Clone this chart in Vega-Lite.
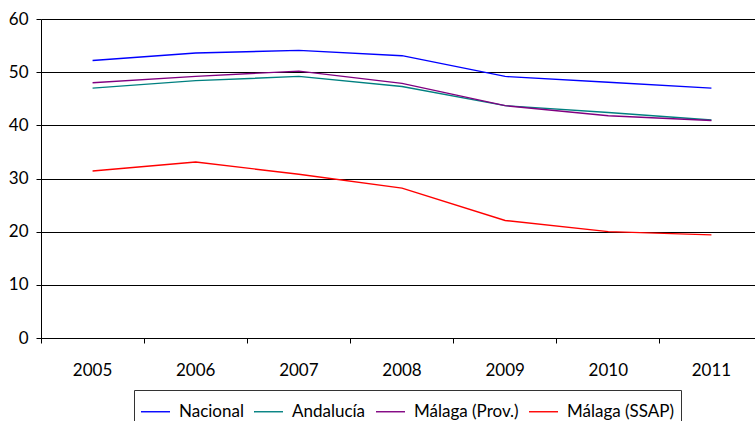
{
  "$schema": "https://vega.github.io/schema/vega-lite/v6.json",
  "autosize": "none",
  "padding": {"left": 41, "top": 19, "right": 0, "bottom": 83},
  "width": 714,
  "height": 319,
  "background": "white",
  "config": {
    "view": {"stroke": null},
    "font": "Lato",
    "axis": {"labelFont": "Lato", "labelFontSize": 17, "labelColor": "#000", "domainColor": "#000", "tickColor": "#000", "gridColor": "#000", "gridOpacity": 1, "domainWidth": 1, "tickWidth": 1, "gridWidth": 1}
  },
  "data": {
    "values": [
      {"year": "2005", "serie": "Nacional", "value": 52.2},
      {"year": "2006", "serie": "Nacional", "value": 53.6},
      {"year": "2007", "serie": "Nacional", "value": 54.1},
      {"year": "2008", "serie": "Nacional", "value": 53.1},
      {"year": "2009", "serie": "Nacional", "value": 49.2},
      {"year": "2010", "serie": "Nacional", "value": 48.1},
      {"year": "2011", "serie": "Nacional", "value": 47.0},
      {"year": "2005", "serie": "Andalucía", "value": 47.0},
      {"year": "2006", "serie": "Andalucía", "value": 48.4},
      {"year": "2007", "serie": "Andalucía", "value": 49.2},
      {"year": "2008", "serie": "Andalucía", "value": 47.3},
      {"year": "2009", "serie": "Andalucía", "value": 43.7},
      {"year": "2010", "serie": "Andalucía", "value": 42.4},
      {"year": "2011", "serie": "Andalucía", "value": 41.0},
      {"year": "2005", "serie": "Málaga (Prov.)", "value": 48.0},
      {"year": "2006", "serie": "Málaga (Prov.)", "value": 49.2},
      {"year": "2007", "serie": "Málaga (Prov.)", "value": 50.2},
      {"year": "2008", "serie": "Málaga (Prov.)", "value": 47.9},
      {"year": "2009", "serie": "Málaga (Prov.)", "value": 43.7},
      {"year": "2010", "serie": "Málaga (Prov.)", "value": 41.8},
      {"year": "2011", "serie": "Málaga (Prov.)", "value": 40.9},
      {"year": "2005", "serie": "Málaga (SSAP)", "value": 31.4},
      {"year": "2006", "serie": "Málaga (SSAP)", "value": 33.1},
      {"year": "2007", "serie": "Málaga (SSAP)", "value": 30.8},
      {"year": "2008", "serie": "Málaga (SSAP)", "value": 28.2},
      {"year": "2009", "serie": "Málaga (SSAP)", "value": 22.1},
      {"year": "2010", "serie": "Málaga (SSAP)", "value": 20.0},
      {"year": "2011", "serie": "Málaga (SSAP)", "value": 19.4}
    ]
  },
  "mark": {"type": "line", "strokeWidth": 1.4},
  "encoding": {
    "x": {
      "field": "year", "type": "ordinal",
      "scale": {"type": "band", "range": [0, 722], "paddingInner": 0, "paddingOuter": 0},
      "axis": {"title": null, "labelAngle": 0, "bandPosition": 0, "labelOffset": 0, "tickSize": 5, "labelPadding": 19, "labelBaseline": "top", "grid": false}
    },
    "y": {
      "field": "value", "type": "quantitative",
      "scale": {"domain": [0, 60], "nice": false},
      "axis": {"title": null, "values": [0, 10, 20, 30, 40, 50, 60], "tickSize": 5, "labelPadding": 8, "grid": true}
    },
    "color": {
      "field": "serie", "type": "nominal",
      "scale": {"domain": ["Nacional", "Andalucía", "Málaga (Prov.)", "Málaga (SSAP)"], "range": ["#0000FF", "#008080", "#800080", "#FF0000"]},
      "legend": {
        "title": null, "orient": "none", "legendX": 93, "legendY": 371, "direction": "horizontal",
        "symbolType": "stroke", "symbolSize": 841, "symbolStrokeWidth": 1.4,
        "labelFont": "Lato", "labelFontSize": 17, "labelColor": "#000", "labelOffset": 8, "columnPadding": 7,
        "strokeColor": "#333", "padding": 6
      }
    }
  }
}
